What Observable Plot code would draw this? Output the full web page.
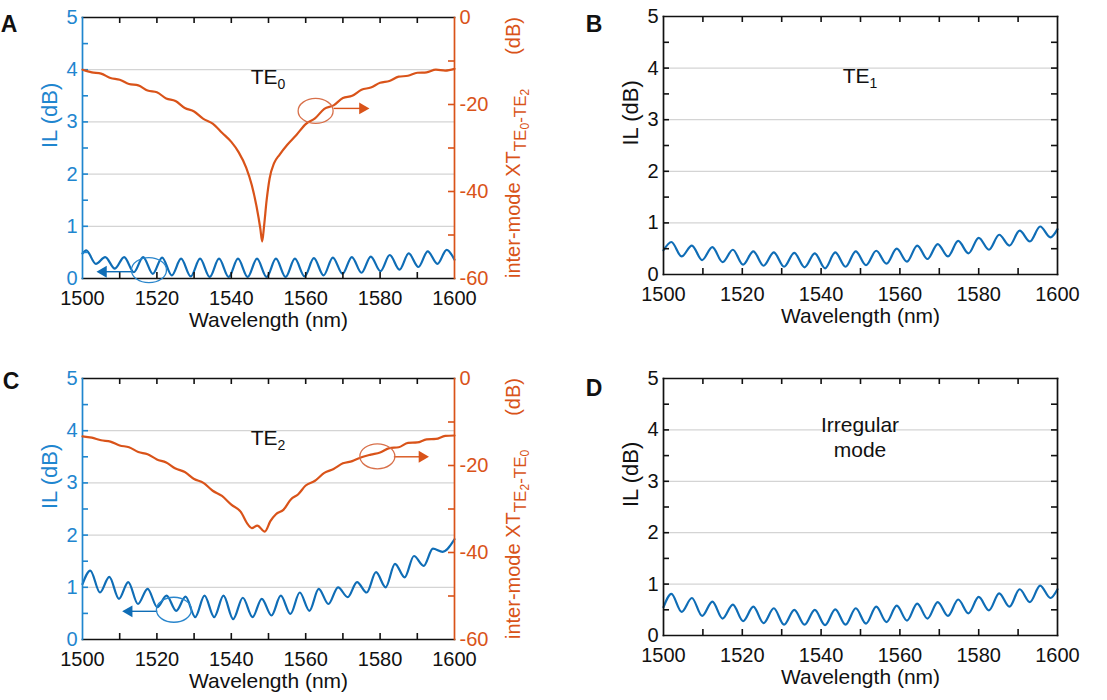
<!DOCTYPE html>
<html>
<head>
<meta charset="utf-8">
<script src="https://cdn.jsdelivr.net/npm/d3@7"></script>
<script src="https://cdn.jsdelivr.net/npm/@observablehq/plot@0.6"></script>
<style>
  html, body { margin: 0; padding: 0; background: #fff; }
  #fig { position: relative; width: 1107px; height: 700px; overflow: hidden; background: #fff; }
  .pnl { position: absolute; }
  .pnl svg { position: absolute; left: 0; top: 0; }
</style>
</head>
<body>
<div id="fig"></div>
<script>
// ---------------- data ----------------
const xTicks = [1500, 1520, 1540, 1560, 1580, 1600];
const xMinor = [1510, 1520, 1530, 1540, 1550, 1560, 1570, 1580, 1590];
const ilTicks = [0, 1, 2, 3, 4, 5];
const ilMinor = [0.5, 1, 1.5, 2, 2.5, 3, 3.5, 4, 4.5];
const ilGrid = [1, 2, 3, 4];
const xtTicks = [-60, -40, -20, 0];
const xtMinor = [-50, -40, -30, -20, -10];

// Panel A : TE0
const wlA = [1500, 1501.0, 1503.6, 1506.1, 1508.7, 1511.2, 1513.8, 1516.3, 1518.9, 1521.4, 1524.0, 1526.5, 1529.1, 1531.6, 1534.2, 1536.7, 1539.3, 1541.8, 1544.4, 1546.9, 1549.5, 1552.0, 1554.6, 1557.1, 1559.7, 1562.2, 1564.8, 1567.3, 1569.9, 1572.4, 1575.0, 1577.5, 1580.1, 1582.6, 1585.2, 1587.7, 1590.3, 1592.8, 1595.4, 1597.9, 1600];
const ilA = [0.48, 0.54, 0.28, 0.41, 0.19, 0.41, 0.12, 0.41, 0.09, 0.40, 0.06, 0.38, 0.04, 0.38, 0.03, 0.38, 0.03, 0.38, 0.03, 0.38, 0.03, 0.38, 0.03, 0.38, 0.04, 0.39, 0.06, 0.40, 0.09, 0.41, 0.11, 0.42, 0.14, 0.45, 0.17, 0.48, 0.22, 0.52, 0.28, 0.55, 0.36];
const wlXtA = [1500, 1502.5, 1505, 1507.5, 1510, 1512.5, 1515, 1517.5, 1520, 1522.5, 1525, 1527.5, 1530, 1532.5, 1535, 1537.5, 1540, 1542, 1544, 1545.5, 1546.8, 1547.8, 1548.3, 1548.8, 1549.5, 1550.3, 1551.5, 1553, 1555, 1557.5, 1560, 1562.5, 1565, 1567.5, 1570, 1572.5, 1575, 1577.5, 1580, 1582.5, 1585, 1587.5, 1590, 1592.5, 1595, 1597.5, 1600];
const xtA = [-12.0, -12.6, -12.9, -13.9, -14.3, -15.3, -15.6, -16.8, -17.2, -18.6, -19.2, -20.8, -21.6, -23.3, -24.4, -26.5, -28.6, -31.0, -34.5, -38.5, -43.5, -48.5, -51.5, -48.0, -42.0, -37.0, -33.5, -31.5, -29.3, -27.0, -24.5, -23.2, -21.0, -20.2, -18.5, -18.0, -16.6, -16.1, -15.0, -14.6, -13.6, -13.4, -12.7, -12.6, -12.0, -12.2, -11.8];

// Panel B : TE1
const wlB = [1500, 1502.0, 1504.6, 1507.2, 1509.8, 1512.4, 1515.0, 1517.6, 1520.2, 1522.8, 1525.4, 1528.0, 1530.6, 1533.2, 1535.8, 1538.4, 1541.0, 1543.6, 1546.2, 1548.8, 1551.4, 1554.0, 1556.6, 1559.2, 1561.8, 1564.4, 1567.0, 1569.6, 1572.2, 1574.8, 1577.4, 1580.0, 1582.6, 1585.2, 1587.8, 1590.4, 1593.0, 1595.6, 1598.2, 1600];
const ilB = [0.47, 0.63, 0.35, 0.56, 0.28, 0.53, 0.24, 0.48, 0.19, 0.45, 0.17, 0.43, 0.15, 0.42, 0.14, 0.41, 0.12, 0.43, 0.15, 0.45, 0.18, 0.46, 0.21, 0.50, 0.25, 0.56, 0.30, 0.59, 0.35, 0.65, 0.41, 0.71, 0.48, 0.77, 0.56, 0.85, 0.64, 0.93, 0.72, 0.88];

// Panel C : TE2
const wlC = [1500, 1502.1, 1504.7, 1507.2, 1509.8, 1512.3, 1514.9, 1517.5, 1520.1, 1522.6, 1525.2, 1527.7, 1530.3, 1532.8, 1535.4, 1537.9, 1540.5, 1543.1, 1545.7, 1548.2, 1550.8, 1553.3, 1555.9, 1558.4, 1561.0, 1563.5, 1566.1, 1568.7, 1571.3, 1573.8, 1576.4, 1578.9, 1581.5, 1584.0, 1586.6, 1589.1, 1591.7, 1594.2, 1596.8, 1600];
const ilC = [1.06, 1.32, 0.90, 1.20, 0.78, 1.10, 0.68, 0.97, 0.62, 0.84, 0.55, 0.82, 0.43, 0.84, 0.43, 0.84, 0.39, 0.80, 0.43, 0.78, 0.46, 0.84, 0.49, 0.90, 0.55, 0.97, 0.68, 1.00, 0.81, 1.10, 0.90, 1.29, 1.00, 1.45, 1.19, 1.60, 1.41, 1.74, 1.68, 1.92];
const wlXtC = [1500, 1502.5, 1505, 1507.5, 1510, 1512.5, 1515, 1517.5, 1520, 1522.5, 1525, 1527.5, 1530, 1532.5, 1535, 1537.5, 1540, 1542.5, 1544.5, 1545.5, 1547, 1549, 1550.5, 1552, 1554, 1556, 1558, 1560, 1562.5, 1565, 1567.5, 1570, 1572.5, 1575, 1577.5, 1580, 1582.5, 1585, 1587.5, 1590, 1592.5, 1595, 1597.5, 1600];
const xtC = [-13.3, -13.6, -14.2, -14.5, -15.4, -15.8, -16.9, -17.4, -18.6, -19.3, -20.7, -21.5, -23.1, -24.0, -25.8, -27.0, -29.0, -30.6, -33.6, -34.4, -33.8, -35.2, -32.8, -31.2, -30.2, -27.8, -26.6, -24.6, -23.5, -21.7, -20.8, -19.5, -19.0, -18.1, -17.5, -17.0, -16.0, -15.8, -14.8, -14.7, -14.0, -13.9, -13.2, -13.1];

// Panel D : irregular mode
const wlD = wlB;
const ilD = [0.55, 0.81, 0.46, 0.73, 0.38, 0.66, 0.33, 0.60, 0.28, 0.56, 0.24, 0.53, 0.21, 0.50, 0.21, 0.50, 0.20, 0.51, 0.21, 0.53, 0.23, 0.56, 0.26, 0.58, 0.29, 0.62, 0.33, 0.65, 0.38, 0.70, 0.43, 0.75, 0.49, 0.82, 0.56, 0.90, 0.65, 0.97, 0.73, 0.90];

// annotations: [ellipse centre wl, ellipse centre value, arrow start wl, arrow end wl, arrow value]
const annoILA = [1518.0, 0.15, 1513.7, 1505.6, 0.13];
const annoXtA = [1562.8, -21.6, 1567.5, 1575.3, -20.9];
const annoILC = [1524.7, 0.56, 1520.1, 1512.5, 0.54];
const annoXtC = [1579.4, -18.0, 1583.7, 1591.3, -18.0];

// ---------------- style ----------------
const FONT = '"Liberation Sans", Arial, Helvetica, sans-serif';
const BLUE = "#0f6db6";
const BLUE_AX = "#1f86cf";
const ORANGE = "#D95319";
const AXW = 1.7;
const TK = 6;

const fig = document.getElementById("fig");

function rows(xs, ys) { return xs.map((x, i) => ({x, y: ys[i]})); }

function annoMarks(a, color) {
  const link = Plot.link([a], {x1: d => d[2], x2: d => d[3], y1: d => d[4], y2: d => d[4], stroke: color, strokeWidth: 1.4});
  const head = Plot.dot([a], {x: d => d[3], y: d => d[4], symbol: "triangle", r: 4.4, fill: color, stroke: "none",
    rotate: a[3] > a[2] ? 90 : -90});
  return [link, head];
}

function addEllipse(svg, a, color) {
  const sx = svg.scale("x"), sy = svg.scale("y");
  d3.select(svg).append("ellipse")
    .attr("cx", sx.apply(a[0])).attr("cy", sy.apply(a[1]))
    .attr("rx", 17.5).attr("ry", 12.5)
    .attr("fill", "none").attr("stroke", color).attr("stroke-width", 1.3);
}

// inward tick marks as short rules (frame insets leave only the tick length)
function ticksX(vals, side, color, H) {
  const o = {x: d => d, stroke: color, strokeWidth: 1.6};
  if (side === "bottom") o.insetTop = H - TK; else o.insetBottom = H - TK;
  return Plot.ruleX(vals, o);
}
function ticksY(vals, side, color, W) {
  const o = {y: d => d, stroke: color, strokeWidth: 1.6};
  if (side === "left") o.insetRight = W - TK; else o.insetLeft = W - TK;
  return Plot.ruleY(vals, o);
}

function panel(cfg) {
  const {L, T, W, H} = cfg.box;
  const mL = 80, mR = 72, mT = 20, mB = 62;
  const width = W + mL + mR, height = H + mT + mB;
  const axC = cfg.dual ? BLUE_AX : "#111";
  const base = {
    width, height, marginLeft: mL, marginRight: mR, marginTop: mT, marginBottom: mB,
    style: {fontFamily: FONT, fontSize: "20px", background: "transparent", overflow: "visible"}
  };
  const div = document.createElement("div");
  div.className = "pnl";
  div.style.left = (L - mL) + "px";
  div.style.top = (T - mT) + "px";
  div.style.width = width + "px";
  div.style.height = height + "px";
  fig.appendChild(div);

  const marks = [
    Plot.gridY(ilGrid, {stroke: "#d4d4d4", strokeOpacity: 1, strokeWidth: 1.3}),
    Plot.line(rows(cfg.wl, cfg.il), {x: "x", y: "y", stroke: BLUE, strokeWidth: 2.2, curve: "monotone-x"}),
    ticksX(xMinor, "bottom", "#111", H),
    ticksX(xMinor, "top", "#111", H),
    Plot.axisX(xTicks, {anchor: "bottom", tickSize: 0, tickPadding: 12, fill: "#111", fontSize: 20, label: null, tickFormat: d => String(d)}),
    ticksY(ilMinor, "left", axC, W),
    Plot.axisY(ilTicks, {anchor: "left", tickSize: 0, tickPadding: 5, fill: axC, fontSize: 20, label: null, tickFormat: d => String(d)}),
    Plot.frame({anchor: "top", stroke: "#111", strokeWidth: AXW}),
    Plot.frame({anchor: "bottom", stroke: "#111", strokeWidth: AXW}),
    Plot.frame({anchor: "left", stroke: axC, strokeWidth: AXW}),
    Plot.text(["Wavelength (nm)"], {text: d => d, frameAnchor: "bottom", dy: 48, fontSize: 21, fill: "#111"}),
    Plot.text(["IL (dB)"], {text: d => d, frameAnchor: "left", dx: -33, rotate: -90, fontSize: 22, fill: axC})
  ];
  if (!cfg.dual) {
    marks.push(ticksY(ilMinor, "right", "#111", W));
    marks.push(Plot.frame({anchor: "right", stroke: "#111", strokeWidth: AXW}));
  }
  if (cfg.annoIL) marks.push(...annoMarks(cfg.annoIL, BLUE));

  const main = Plot.plot({...base, x: {domain: [1500, 1600]}, y: {domain: [0, 5]}, marks});
  div.appendChild(main);
  if (cfg.annoIL) addEllipse(main, cfg.annoIL, "#2a86cc");

  const sel = d3.select(main);
  // panel letter
  sel.append("text").attr("x", cfg.letterX - (L - mL)).attr("y", cfg.letterY - (T - mT))
    .attr("font-family", FONT).attr("font-weight", "bold").attr("font-size", 23).attr("fill", "#111")
    .text(cfg.letter);
  // panel title
  const cx = mL + W / 2;
  if (cfg.title) {
    const t = sel.append("text").attr("x", cx).attr("y", mT + 67).attr("text-anchor", "middle")
      .attr("font-family", FONT).attr("font-size", 21).attr("fill", "#111");
    t.append("tspan").text(cfg.title[0]);
    t.append("tspan").attr("dy", 5).attr("font-size", 14).text(cfg.title[1]);
  }
  if (cfg.lines) {
    cfg.lines.forEach((s, i) => {
      sel.append("text").attr("x", cx).attr("y", mT + 54 + i * 25).attr("text-anchor", "middle")
        .attr("font-family", FONT).attr("font-size", 21).attr("fill", "#111").text(s);
    });
  }

  if (cfg.dual) {
    const over = Plot.plot({
      ...base,
      x: {domain: [1500, 1600], axis: null},
      y: {domain: [-60, 0]},
      marks: [
        Plot.line(rows(cfg.wlXt, cfg.xt), {x: "x", y: "y", stroke: ORANGE, strokeWidth: 2.2, curve: "monotone-x"}),
        ...annoMarks(cfg.annoXt, ORANGE),
        ticksY(xtMinor, "right", ORANGE, W),
        Plot.axisY(xtTicks, {anchor: "right", tickSize: 0, tickPadding: 5, fill: ORANGE, fontSize: 20, label: null, tickFormat: d => String(d)}),
        Plot.frame({anchor: "right", stroke: ORANGE, strokeWidth: AXW})
      ]
    });
    div.appendChild(over);
    addEllipse(over, cfg.annoXt, "#d8704a");
    const so = d3.select(over);
    const bx = mL + W + 66;
    const t1 = so.append("text").attr("transform", `translate(${bx},${mT + H}) rotate(-90)`)
      .attr("text-anchor", "start").attr("font-family", FONT).attr("font-size", 20).attr("fill", ORANGE);
    t1.append("tspan").text("inter-mode XT");
    t1.append("tspan").attr("dy", 6).attr("font-size", 17).text("TE");
    t1.append("tspan").attr("dy", 3).attr("font-size", 12).text(cfg.sub[0]);
    t1.append("tspan").attr("dy", -3).attr("font-size", 17).text("-TE");
    t1.append("tspan").attr("dy", 3).attr("font-size", 12).text(cfg.sub[1]);
    so.append("text").attr("transform", `translate(${bx},${mT}) rotate(-90)`)
      .attr("text-anchor", "end").attr("font-family", FONT).attr("font-size", 20).attr("fill", ORANGE)
      .text("(dB)");
  }
}

panel({letter: "A", letterX: 9, letterY: 32, box: {L: 82, T: 17, W: 372, H: 261}, dual: true,
  wl: wlA, il: ilA, wlXt: wlXtA, xt: xtA, annoIL: annoILA, annoXt: annoXtA, title: ["TE", "0"], sub: ["0", "2"]});
panel({letter: "B", letterX: 594, letterY: 32, box: {L: 663, T: 16, W: 394, H: 258}, dual: false,
  wl: wlB, il: ilB, title: ["TE", "1"]});
panel({letter: "C", letterX: 11, letterY: 389, box: {L: 82, T: 378, W: 372, H: 261}, dual: true,
  wl: wlC, il: ilC, wlXt: wlXtC, xt: xtC, annoIL: annoILC, annoXt: annoXtC, title: ["TE", "2"], sub: ["2", "0"]});
panel({letter: "D", letterX: 594, letterY: 396, box: {L: 663, T: 378, W: 394, H: 257}, dual: false,
  wl: wlD, il: ilD, lines: ["Irregular", "mode"]});
</script>
</body>
</html>
